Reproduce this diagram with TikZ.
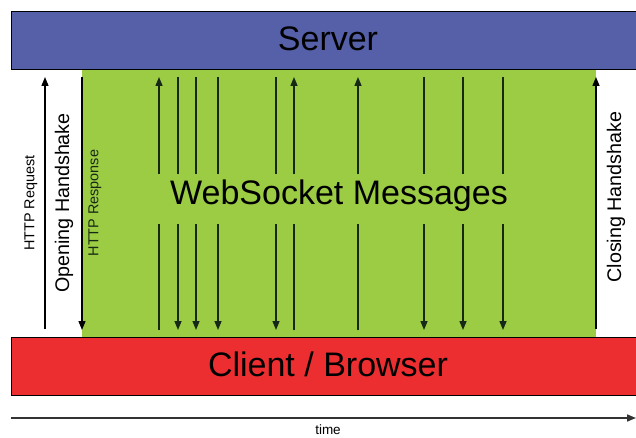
\documentclass[tikz,border=0pt]{standalone}
\usepackage{fontspec}
\setmainfont{Liberation Sans}
\usetikzlibrary{arrows.meta}

\definecolor{serverblue}{RGB}{86,96,168}
\definecolor{msggreen}{RGB}{155,204,68}
\definecolor{clientred}{RGB}{236,46,48}
\definecolor{msgline}{RGB}{22,40,22}

\tikzset{
  lane/.style={draw=black, line width=0.9pt, inner sep=0pt, anchor=north west},
  area/.style={inner sep=0pt, anchor=north west},
  msg/.style={draw=msgline, line width=1.4pt},
  tipped/.style={-{Triangle[length=9pt,width=7pt]}},
  bigtext/.style={font=\fontsize{34}{34}\selectfont, inner sep=0pt},
  midtext/.style={font=\fontsize{19.7}{20}\selectfont, inner sep=0pt, rotate=90},
  smalltext/.style={font=\fontsize{14.4}{15}\selectfont, inner sep=0pt, rotate=90},
}

\begin{document}
\begin{tikzpicture}[x=1pt,y=-1pt]
  \useasboundingbox (0,0) rectangle (636,438);

  % lanes
  \node[area, fill=msggreen, minimum width=514pt, minimum height=268pt] (ws) at (82,69) {};
  \node[lane, fill=serverblue, minimum width=640pt, minimum height=58pt] (server) at (11,11) {};
  \node[lane, fill=clientred, minimum width=640pt, minimum height=58pt] (client) at (11,337) {};

  % lane titles
  \node[bigtext] (servertxt) at (328,39) {Server};
  \node[bigtext] (clienttxt) at (328,364) {Client / Browser};
  \node[bigtext] (wstxt) at (339,196) {WebSocket Messages};

  % handshake labels
  \node[smalltext] (reqtxt) at (31,203) {HTTP Request};
  \node[midtext] (opentxt) at (64,203) {Opening Handshake};
  \node[smalltext, text=msgline] (resptxt) at (95,203) {HTTP Response};
  \node[midtext] (closetxt) at (616,197) {Closing Handshake};

  % handshake arrows
  \coordinate (reqA) at (45,329);  \coordinate (reqB) at (45,77);
  \coordinate (resA) at (82,77);   \coordinate (resB) at (82,330);
  \coordinate (clsA) at (596,329); \coordinate (clsB) at (596,77);
  \draw[msg, draw=black, tipped] (reqA) -- (reqB);
  \draw[msg, draw=black, tipped] (resA) -- (resB);
  \draw[msg, draw=black, tipped] (clsA) -- (clsB);

  % websocket messages: u = client to server, d = server to client
  \foreach \x/\dir [count=\i] in {159/u,178/d,196/d,218/d,276/d,294/u,358/u,424/d,463/d,503/d}{
    \coordinate (m\i top) at (\x,77);
    \coordinate (m\i upper) at (\x,174);
    \coordinate (m\i lower) at (\x,224);
    \coordinate (m\i bot) at (\x,330);
    \if u\dir
      \draw[msg, tipped] (m\i upper) -- (m\i top);
      \draw[msg] (m\i bot) -- (m\i lower);
    \else
      \draw[msg] (m\i top) -- (m\i upper);
      \draw[msg, tipped] (m\i lower) -- (m\i bot);
    \fi
  }

  % time axis
  \coordinate (t0) at (11,418);
  \coordinate (t1) at (636,418);
  \draw[line width=1.6pt, draw=black!80, tipped] (t0) -- (t1);
  \node[font=\fontsize{13.5}{14}\selectfont, inner sep=0pt, anchor=base] (timetxt) at (328,434.5) {time};
\end{tikzpicture}
\end{document}
